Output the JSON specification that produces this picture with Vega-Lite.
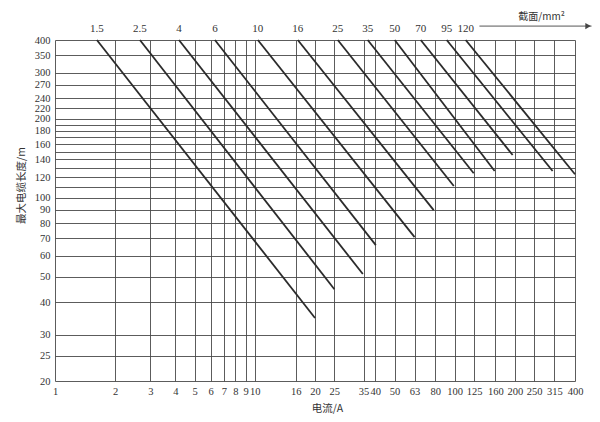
{
  "$schema": "https://vega.github.io/schema/vega-lite/v6.json",
  "width": 520,
  "height": 341,
  "autosize": {"type": "none"},
  "padding": {"left": 55, "top": 40, "right": 25, "bottom": 41},
  "background": "white",
  "config": {"view": {"stroke": null}, "font": "Liberation Serif"},
  "datasets": {
    "cables": [
      {"sec": "1.5", "I": 1.62, "L": 400}, {"sec": "1.5", "I": 20, "L": 34.8},
      {"sec": "2.5", "I": 2.66, "L": 400}, {"sec": "2.5", "I": 25, "L": 44.8},
      {"sec": "4", "I": 4.17, "L": 400}, {"sec": "4", "I": 34.7, "L": 51.2},
      {"sec": "6", "I": 6.31, "L": 400}, {"sec": "6", "I": 40.3, "L": 66},
      {"sec": "10", "I": 10.35, "L": 400}, {"sec": "10", "I": 63, "L": 70.8},
      {"sec": "16", "I": 16.4, "L": 400}, {"sec": "16", "I": 78.5, "L": 89.7},
      {"sec": "25", "I": 26, "L": 400}, {"sec": "25", "I": 99, "L": 110.9},
      {"sec": "35", "I": 36.7, "L": 400}, {"sec": "35", "I": 124.5, "L": 124},
      {"sec": "50", "I": 50.1, "L": 400}, {"sec": "50", "I": 158.5, "L": 126.5},
      {"sec": "70", "I": 67.6, "L": 400}, {"sec": "70", "I": 195, "L": 145.6},
      {"sec": "95", "I": 91.2, "L": 400}, {"sec": "95", "I": 309, "L": 126.5},
      {"sec": "120", "I": 113.5, "L": 400}, {"sec": "120", "I": 400, "L": 123}
    ],
    "arrow": [{"I": 133, "I2": 484, "L": 452}],
    "arrowhead": [{"I": 465, "L": 452}],
    "note": [{"I": 272, "L": 490, "text": "截面/mm²"}]
  },
  "layer": [
    {
      "data": {"name": "cables"},
      "mark": {"type": "line", "color": "#2b2b2b", "strokeWidth": 1.8},
      "encoding": {
        "x": {
          "field": "I", "type": "quantitative",
          "scale": {"type": "log", "domain": [1, 400], "nice": false},
          "axis": {
            "values": [1, 2, 3, 4, 5, 6, 7, 8, 9, 10, 16, 20, 25, 35, 40, 50, 63, 80, 100, 125, 160, 200, 250, 315, 400],
            "format": "d",
            "grid": true, "gridColor": "#4a4a4a", "gridWidth": 0.9, "gridOpacity": 1,
            "ticks": false, "domain": false,
            "labelOverlap": false, "labelFlush": false, "labelPadding": 5,
            "labelFontSize": 10.5, "labelColor": "#333333", "labelFont": "Liberation Serif",
            "title": "电流/A", "titleFont": "Noto Sans CJK SC", "titleFontSize": 10.5,
            "titleFontWeight": "normal", "titleColor": "#333333",
            "titleX": 272, "titleY": 27, "titleBaseline": "middle", "titleAlign": "center"
          }
        },
        "y": {
          "field": "L", "type": "quantitative",
          "scale": {"type": "log", "domain": [20, 400], "nice": false},
          "axis": {
            "values": [20, 25, 30, 40, 50, 60, 70, 80, 90, 100, 110, 120, 130, 140, 150, 160, 170, 180, 190, 200, 220, 240, 270, 300, 350, 400],
            "format": "d",
            "labelExpr": "indexof([110,130,150,170,190], datum.value) >= 0 ? '' : datum.label",
            "grid": true, "gridColor": "#4a4a4a", "gridWidth": 0.9, "gridOpacity": 1,
            "ticks": false, "domain": false,
            "labelOverlap": false, "labelFlush": false, "labelPadding": 5,
            "labelFontSize": 10.5, "labelColor": "#333333", "labelFont": "Liberation Serif",
            "title": "最大电缆长度/m", "titleFont": "Noto Sans CJK SC", "titleFontSize": 10.5,
            "titleFontWeight": "normal", "titleColor": "#333333",
            "titleX": -34, "titleY": 145, "titleBaseline": "middle", "titleAlign": "center", "titleAngle": -90
          }
        },
        "detail": {"field": "sec"}
      }
    },
    {
      "data": {"name": "cables"},
      "transform": [{"filter": "datum.L == 400"}],
      "mark": {"type": "text", "font": "Liberation Serif", "fontSize": 11, "color": "#333333", "baseline": "middle", "dy": -11},
      "encoding": {
        "x": {"field": "I", "type": "quantitative"},
        "y": {"field": "L", "type": "quantitative"},
        "text": {"field": "sec"}
      }
    },
    {
      "data": {"name": "arrow"},
      "mark": {"type": "rule", "color": "#444444", "strokeWidth": 0.9},
      "encoding": {
        "x": {"field": "I", "type": "quantitative"},
        "x2": {"field": "I2"},
        "y": {"field": "L", "type": "quantitative"}
      }
    },
    {
      "data": {"name": "arrowhead"},
      "mark": {"type": "point", "shape": "triangle-right", "filled": true, "color": "#444444", "size": 40, "opacity": 1},
      "encoding": {
        "x": {"field": "I", "type": "quantitative"},
        "y": {"field": "L", "type": "quantitative"}
      }
    },
    {
      "data": {"name": "note"},
      "mark": {"type": "text", "font": "Noto Sans CJK SC", "fontSize": 10, "color": "#333333", "baseline": "middle"},
      "encoding": {
        "x": {"field": "I", "type": "quantitative"},
        "y": {"field": "L", "type": "quantitative"},
        "text": {"field": "text"}
      }
    }
  ]
}
